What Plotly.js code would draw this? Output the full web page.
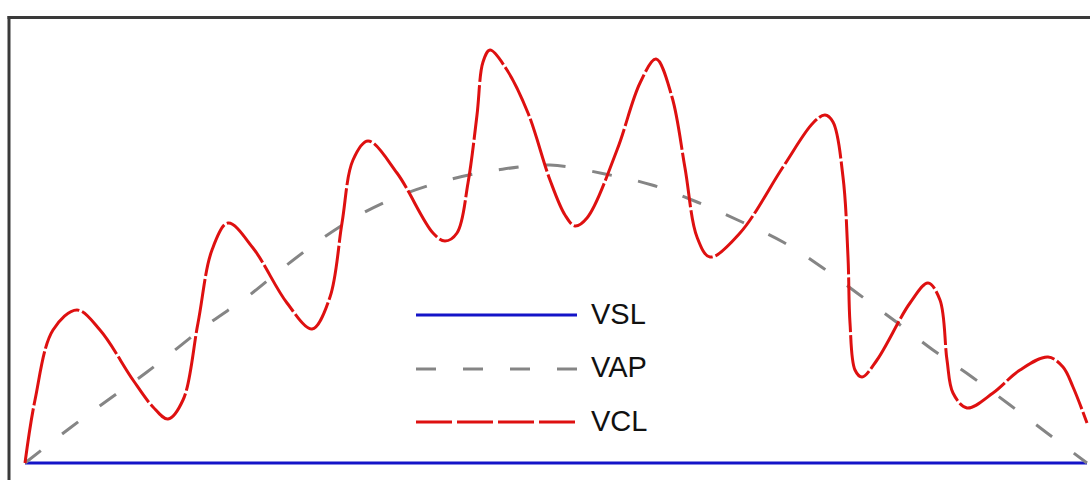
<!DOCTYPE html>
<html>
<head>
<meta charset="utf-8">
<script src="https://cdn.plot.ly/plotly-3.0.1.min.js"></script>
<style>html,body{margin:0;padding:0;background:#fff}#chart{width:1090px;height:480px}</style>
</head>
<body>
<div id="chart"></div>
<script>
// time axis (arbitrary units) and velocities
const vclT = [0,10,28,52,75,108,128,143,158,173,187,203,228,262,287,305,317,328,343,372,408,420,432,443,452,458,465,482,503,525,540,550,562,592,615,631,647,660,672,685,715,758,788,800,808,818,823,825,830,837,852,885,903,915,922,928,942,968,995,1023,1038,1048,1062];
const vclV = [0,63,133,153,133,83,56,44,63,140,213,240,215,160,134,166,240,303,322,290,230,222,230,280,348,401,413,393,350,283,248,237,245,313,380,404,366,295,226,206,230,296,340,348,341,286,206,140,93,86,103,160,180,163,103,70,55,70,93,106,96,76,40];
const vapT = [0,45,83,122,182,222,258,298,338,382,427,472,525,580,627,672,717,758,798,832,870,908,947,985,1022,1062];
const vapV = [0,35,63,91,138,166,195,225,250,270,284,293,298,289,278,261,241,221,195,170,142,113,86,58,30,0];
const vslT = [0,1062];
const vslV = [0,0];
const labels = ["VSL","VAP","VCL"];

const colors = {VSL:"#1414c8", VAP:"#858585", VCL:"#de1010"};
const dashes = {VSL:"solid", VAP:"20px,27px", VCL:"55px,3px"};
const widths = {VSL:3, VAP:3, VCL:3};

const traces = [
  {x:vslT, y:vslV, name:labels[0], mode:"lines", line:{color:colors.VSL, width:widths.VSL, dash:dashes.VSL}},
  {x:vapT, y:vapV, name:labels[1], mode:"lines", line:{color:colors.VAP, width:widths.VAP, dash:dashes.VAP, shape:"spline", smoothing:1}},
  {x:vclT, y:vclV, name:labels[2], mode:"lines", line:{color:colors.VCL, width:widths.VCL, dash:dashes.VCL, shape:"spline", smoothing:1}}
];

// frame and legend drawn with paper-referenced shapes (layout positions in pixels)
const L = 9, T = 18, W = 1080, H = 462;
const px = p => (p - L) / W;
const py = p => (T + H - p) / H;
const legY = {VSL:315, VAP:369, VCL:422};
const textY = {VSL:314, VAP:367, VCL:421};
const legDash = {VSL:"solid", VAP:"20px,27px", VCL:"36px,5px"};
const shapes = [
  {type:"line", xref:"paper", yref:"paper", x0:px(7.5), x1:px(1092), y0:py(17.5), y1:py(17.5), line:{color:"#3a3a3a", width:3}},
  {type:"line", xref:"paper", yref:"paper", x0:px(9), x1:px(9), y0:py(16), y1:py(482), line:{color:"#3a3a3a", width:3}}
];
const annotations = [];
labels.forEach(k => {
  shapes.push({type:"line", xref:"paper", yref:"paper", x0:px(416), x1:px(577), y0:py(legY[k]), y1:py(legY[k]),
    line:{color:colors[k], width:widths[k], dash:legDash[k]}});
  annotations.push({xref:"paper", yref:"paper", x:px(589), y:py(textY[k]), xanchor:"left", yanchor:"middle",
    text:k, showarrow:false, font:{family:"Liberation Sans, Arial, sans-serif", size:29, color:"#111"}});
});

const layout = {
  width:1090, height:480,
  margin:{l:L, r:1, t:T, b:0},
  paper_bgcolor:"#fff", plot_bgcolor:"#fff",
  showlegend:false,
  xaxis:{range:[-16,1064], showline:false, showgrid:false, zeroline:false, showticklabels:false, ticks:""},
  yaxis:{range:[-17,445], showline:false, showgrid:false, zeroline:false, showticklabels:false, ticks:""},
  shapes, annotations
};
Plotly.newPlot("chart", traces, layout, {staticPlot:true});
</script>
</body>
</html>
